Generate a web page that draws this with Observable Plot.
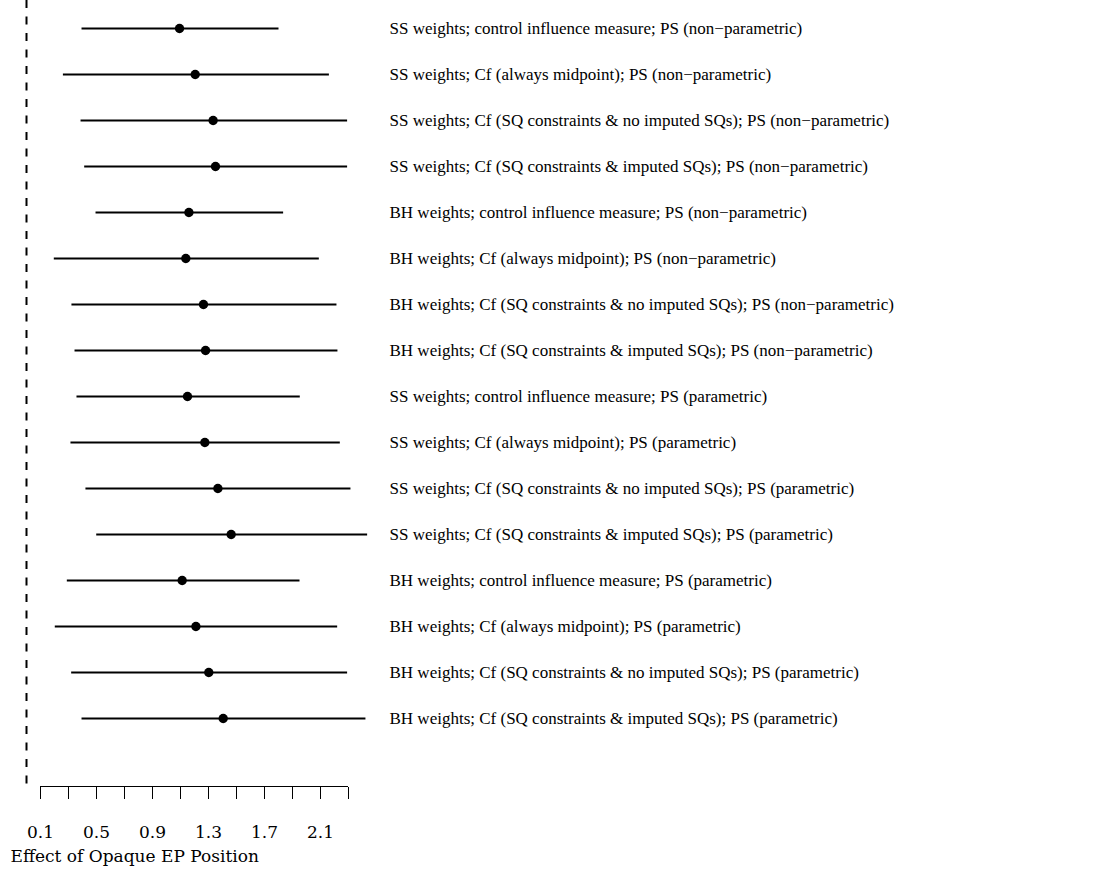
<!DOCTYPE html>
<html>
<head>
<meta charset="utf-8">
<script src="https://cdn.jsdelivr.net/npm/d3@7"></script>
<script src="https://cdn.jsdelivr.net/npm/@observablehq/plot@0.6"></script>
<style>
  body { margin: 0; background: #fff; }
</style>
</head>
<body>
<div id="chart"></div>
<script>
const labels = [
  "SS weights; control influence measure; PS (non\u2212parametric)",
  "SS weights; Cf (always midpoint); PS (non\u2212parametric)",
  "SS weights; Cf (SQ constraints & no imputed SQs); PS (non\u2212parametric)",
  "SS weights; Cf (SQ constraints & imputed SQs); PS (non\u2212parametric)",
  "BH weights; control influence measure; PS (non\u2212parametric)",
  "BH weights; Cf (always midpoint); PS (non\u2212parametric)",
  "BH weights; Cf (SQ constraints & no imputed SQs); PS (non\u2212parametric)",
  "BH weights; Cf (SQ constraints & imputed SQs); PS (non\u2212parametric)",
  "SS weights; control influence measure; PS (parametric)",
  "SS weights; Cf (always midpoint); PS (parametric)",
  "SS weights; Cf (SQ constraints & no imputed SQs); PS (parametric)",
  "SS weights; Cf (SQ constraints & imputed SQs); PS (parametric)",
  "BH weights; control influence measure; PS (parametric)",
  "BH weights; Cf (always midpoint); PS (parametric)",
  "BH weights; Cf (SQ constraints & no imputed SQs); PS (parametric)",
  "BH weights; Cf (SQ constraints & imputed SQs); PS (parametric)"
];
const estimate = [1.093, 1.205, 1.333, 1.350, 1.160, 1.138, 1.264, 1.279, 1.150, 1.274, 1.367, 1.462, 1.112, 1.210, 1.302, 1.405];
const lower    = [0.393, 0.260, 0.386, 0.412, 0.493, 0.195, 0.321, 0.343, 0.357, 0.314, 0.421, 0.498, 0.288, 0.202, 0.319, 0.393];
const upper    = [1.800, 2.160, 2.290, 2.290, 1.833, 2.088, 2.214, 2.221, 1.952, 2.238, 2.314, 2.433, 1.950, 2.219, 2.290, 2.421];
const referenceLine = [0];
const xTicks = [0.1, 0.3, 0.5, 0.7, 0.9, 1.1, 1.3, 1.5, 1.7, 1.9, 2.1, 2.3];
const xTickLabels = [0.1, 0.5, 0.9, 1.3, 1.7, 2.1];
const xTitle = "Effect of Opaque EP Position";

const data = labels.map((label, i) => ({label, est: estimate[i], lo: lower[i], hi: upper[i]}));

const chart = Plot.plot({
  width: 1114,
  height: 878,
  marginTop: 27,
  marginLeft: 40,
  marginRight: 766,
  marginBottom: 91,
  style: {fontFamily: "Liberation Serif", fontSize: "17px", background: "white", color: "black", overflow: "visible"},
  x: {domain: [xTicks[0], xTicks[xTicks.length - 1]], axis: null},
  y: {type: "point", domain: labels, padding: 0, insetBottom: 68, axis: null},
  marks: [
    Plot.ruleX(referenceLine, {stroke: "black", strokeWidth: 2, strokeDasharray: "8,8.5", insetTop: -27}),
    Plot.ruleY([labels[labels.length - 1]], {x1: xTicks[0], x2: xTicks[xTicks.length - 1], dy: 68, stroke: "black", strokeWidth: 1}),
    Plot.axisX({
      ticks: xTicks, tickSize: 12, tickPadding: 26,
      tickFormat: d => xTickLabels.some(v => Math.abs(v - d) < 1e-9) ? d.toFixed(1) : "",
      fontFamily: "DejaVu Serif", fontSize: 17, label: null
    }),
    Plot.axisY({anchor: "right", tickSize: 0, tickPadding: 41, fontSize: 17, label: null}),
    Plot.link(data, {x1: "lo", x2: "hi", y1: "label", y2: "label", stroke: "black", strokeWidth: 2}),
    Plot.dot(data, {x: "est", y: "label", r: 4.7, fill: "black", stroke: null}),
    Plot.text([xTitle], {frameAnchor: "bottom-left", textAnchor: "start", lineAnchor: "middle", dx: -30, dy: 69, fontFamily: "DejaVu Serif", fontSize: 17, fill: "black"})
  ]
});
document.getElementById("chart").append(chart);
</script>
</body>
</html>
